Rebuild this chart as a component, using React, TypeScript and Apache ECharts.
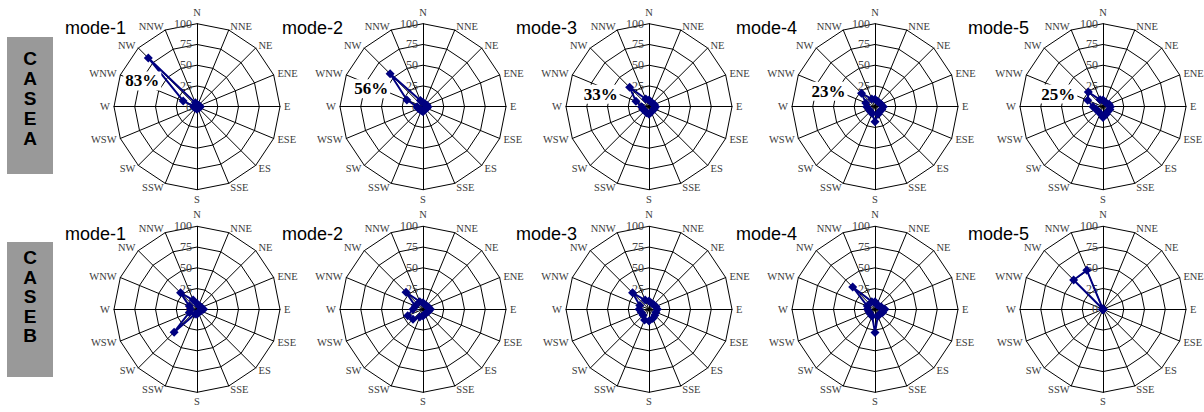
import React, { useEffect, useRef } from 'react';
import * as echarts from 'echarts';

// ---- data ----
const DIRECTIONS = ['N', 'NNE', 'NE', 'ENE', 'E', 'ESE', 'ES', 'SSE', 'S', 'SSW', 'SW', 'WSW', 'W', 'WNW', 'NW', 'NNW'];
const TICK_MAX = 100;
const TICK_SPLITS = 4;
const MODES = ['mode-1', 'mode-2', 'mode-3', 'mode-4', 'mode-5'];
const CASES = ['CASE A', 'CASE B'];

// values in DIRECTIONS order (clockwise from N), percent
const CASE_A_MODE_1 = [3, 2, 2, 3, 4, 3, 2, 2, 3, 2, 2, 3, 4, 18, 83, 5];
const CASE_A_MODE_2 = [5, 4, 4, 5, 6, 5, 4, 4, 6, 5, 5, 6, 7, 21, 56, 8];
const CASE_A_MODE_3 = [8, 6, 6, 7, 8, 7, 6, 7, 9, 8, 7, 8, 9, 17, 33, 10];
const CASE_A_MODE_4 = [9, 7, 7, 8, 10, 9, 8, 10, 18, 9, 8, 8, 10, 12, 23, 10];
const CASE_A_MODE_5 = [8, 6, 6, 8, 9, 9, 8, 10, 13, 9, 8, 9, 12, 20, 25, 9];
const CASE_B_MODE_1 = [7, 5, 5, 6, 8, 5, 4, 4, 6, 6, 39, 10, 8, 10, 28, 12];
const CASE_B_MODE_2 = [8, 6, 6, 7, 9, 7, 6, 6, 8, 10, 17, 20, 12, 10, 29, 10];
const CASE_B_MODE_3 = [10, 8, 8, 9, 10, 9, 10, 12, 14, 14, 10, 10, 12, 12, 28, 12];
const CASE_B_MODE_4 = [9, 6, 6, 8, 12, 10, 8, 9, 28, 9, 8, 8, 9, 10, 38, 10];
const CASE_B_MODE_5 = [0, 0, 0, 0, 0, 0, 0, 0, 0, 0, 0, 0, 0, 0, 50, 51];

const CASE_A = [CASE_A_MODE_1, CASE_A_MODE_2, CASE_A_MODE_3, CASE_A_MODE_4, CASE_A_MODE_5];
const CASE_B = [CASE_B_MODE_1, CASE_B_MODE_2, CASE_B_MODE_3, CASE_B_MODE_4, CASE_B_MODE_5];
// peak values annotated with a percentage label (case A only)
const CASE_A_PEAKS = [83, 56, 33, 23, 25];

// ---- layout (page coordinates) ----
const CENTER_X = [196.7, 423, 649.3, 875.3, 1102.7];
const CENTER_Y = [106.7, 309.3];
const RADIUS = 83;
const ROW_TOP = [0, 206];
const ROW_HEIGHT = [206, 206];
const PANEL_HALF_WIDTH = 112;
const TITLE_X = [65, 282, 516, 736, 968];
const TITLE_Y = [19, 225];
const PEAK_LABEL_OFFSET = [[-6, 23], [-19, 15], [-29, 7], [-33, -2], [-30, 2]];
const CASE_BOX = [{ y: 37, h: 137, textY: 48, lh: 20 }, { y: 242, h: 135, textY: 248, lh: 19.5 }];

const NAVY = '#000080';
const SERIF = '"Liberation Serif", "Times New Roman", serif';
const SANS = '"Liberation Sans", Arial, sans-serif';

// ECharts places indicators counter-clockwise; reorder so the rose reads clockwise
const ORDER = DIRECTIONS.map((_, k) => (k === 0 ? 0 : DIRECTIONS.length - k));

type PanelSpec = {
  row: number;
  col: number;
  values: number[];
  peak: number | null;
};

function panelLeft(col: number) {
  return Math.max(0, CENTER_X[col] - PANEL_HALF_WIDTH);
}
function panelRight(col: number) {
  return Math.min(1204, CENTER_X[col] + PANEL_HALF_WIDTH);
}

function buildRadarOption(spec: PanelSpec) {
  const left = panelLeft(spec.col);
  const top = ROW_TOP[spec.row];
  const peak = spec.peak;
  const off = PEAK_LABEL_OFFSET[spec.col];
  return {
    animation: false,
    radar: {
      center: [CENTER_X[spec.col] - left, CENTER_Y[spec.row] - top],
      radius: RADIUS,
      startAngle: 90,
      splitNumber: TICK_SPLITS,
      shape: 'polygon',
      nameGap: 4,
      indicator: ORDER.map((di, k) => {
        const ind: any = { name: DIRECTIONS[di], min: 0, max: TICK_MAX };
        if (k === 0) ind.axisLabel = { show: true };
        return ind;
      }),
      axisName: { color: '#3a3a3a', fontFamily: SERIF, fontSize: 10.5 },
      axisLine: { show: true, lineStyle: { color: '#000', width: 1 } },
      splitLine: { show: true, lineStyle: { color: '#000', width: 1 } },
      splitArea: { show: false },
      axisTick: { show: false },
      axisLabel: { show: false, color: '#444', fontFamily: SERIF, fontSize: 12, margin: 5 },
    },
    series: [
      {
        type: 'radar',
        symbol: 'diamond',
        symbolSize: 9,
        lineStyle: { color: NAVY, width: 2 },
        itemStyle: { color: NAVY },
        data: [
          {
            value: ORDER.map((di) => spec.values[di]),
            label: {
              show: peak != null,
              position: 'inside',
              offset: off,
              formatter: (p: any) => (peak != null && p.value === peak ? `{b|${p.value}%}` : ''),
              rich: {
                b: {
                  fontFamily: SERIF,
                  fontWeight: 'bold',
                  fontSize: 17,
                  color: '#000',
                  backgroundColor: '#fff',
                  padding: [1, 2],
                },
              },
            },
          },
        ],
      },
    ],
  };
}

function RadarPanel({ spec }: { spec: PanelSpec }) {
  const ref = useRef<HTMLDivElement>(null);
  useEffect(() => {
    if (!ref.current) return;
    const chart = echarts.init(ref.current, undefined, { renderer: 'svg' });
    chart.setOption(buildRadarOption(spec) as any);
    return () => chart.dispose();
  }, [spec]);
  const left = panelLeft(spec.col);
  const right = panelRight(spec.col);
  return (
    <div
      ref={ref}
      style={{
        position: 'absolute',
        left,
        top: ROW_TOP[spec.row],
        width: right - left,
        height: ROW_HEIGHT[spec.row],
      }}
    />
  );
}

function Background() {
  const ref = useRef<HTMLDivElement>(null);
  useEffect(() => {
    if (!ref.current) return;
    const chart = echarts.init(ref.current, undefined, { renderer: 'svg' });
    const elements: any[] = [];
    CASES.forEach((c, r) => {
      const box = CASE_BOX[r];
      elements.push({
        type: 'rect',
        shape: { x: 7, y: box.y, width: 46, height: box.h },
        style: { fill: '#999999' },
      });
      elements.push({
        type: 'text',
        x: 30,
        y: box.textY,
        style: {
          text: c.replace(/\s+/g, '').split('').join('\n'),
          fill: '#000',
          font: `bold 19px ${SANS}`,
          lineHeight: box.lh,
          textAlign: 'center',
          textVerticalAlign: 'top',
        },
      });
      MODES.forEach((m, col) => {
        elements.push({
          type: 'text',
          x: TITLE_X[col],
          y: TITLE_Y[r],
          style: {
            text: m,
            fill: '#000',
            font: `18px ${SANS}`,
            textAlign: 'left',
            textVerticalAlign: 'top',
          },
        });
      });
    });
    chart.setOption({ animation: false, graphic: { elements } } as any);
    return () => chart.dispose();
  }, []);
  return <div ref={ref} style={{ position: 'absolute', left: 0, top: 0, width: 1204, height: 412 }} />;
}

const PANELS: PanelSpec[] = [
  ...CASE_A.map((values, col) => ({ row: 0, col, values, peak: CASE_A_PEAKS[col] })),
  ...CASE_B.map((values, col) => ({ row: 1, col, values, peak: null })),
];

export default function App() {
  return (
    <div style={{ position: 'absolute', left: 0, top: 0, width: 1204, height: 412, background: '#fff' }}>
      <Background />
      {PANELS.map((p) => (
        <RadarPanel key={`${p.row}-${p.col}`} spec={p} />
      ))}
    </div>
  );
}
